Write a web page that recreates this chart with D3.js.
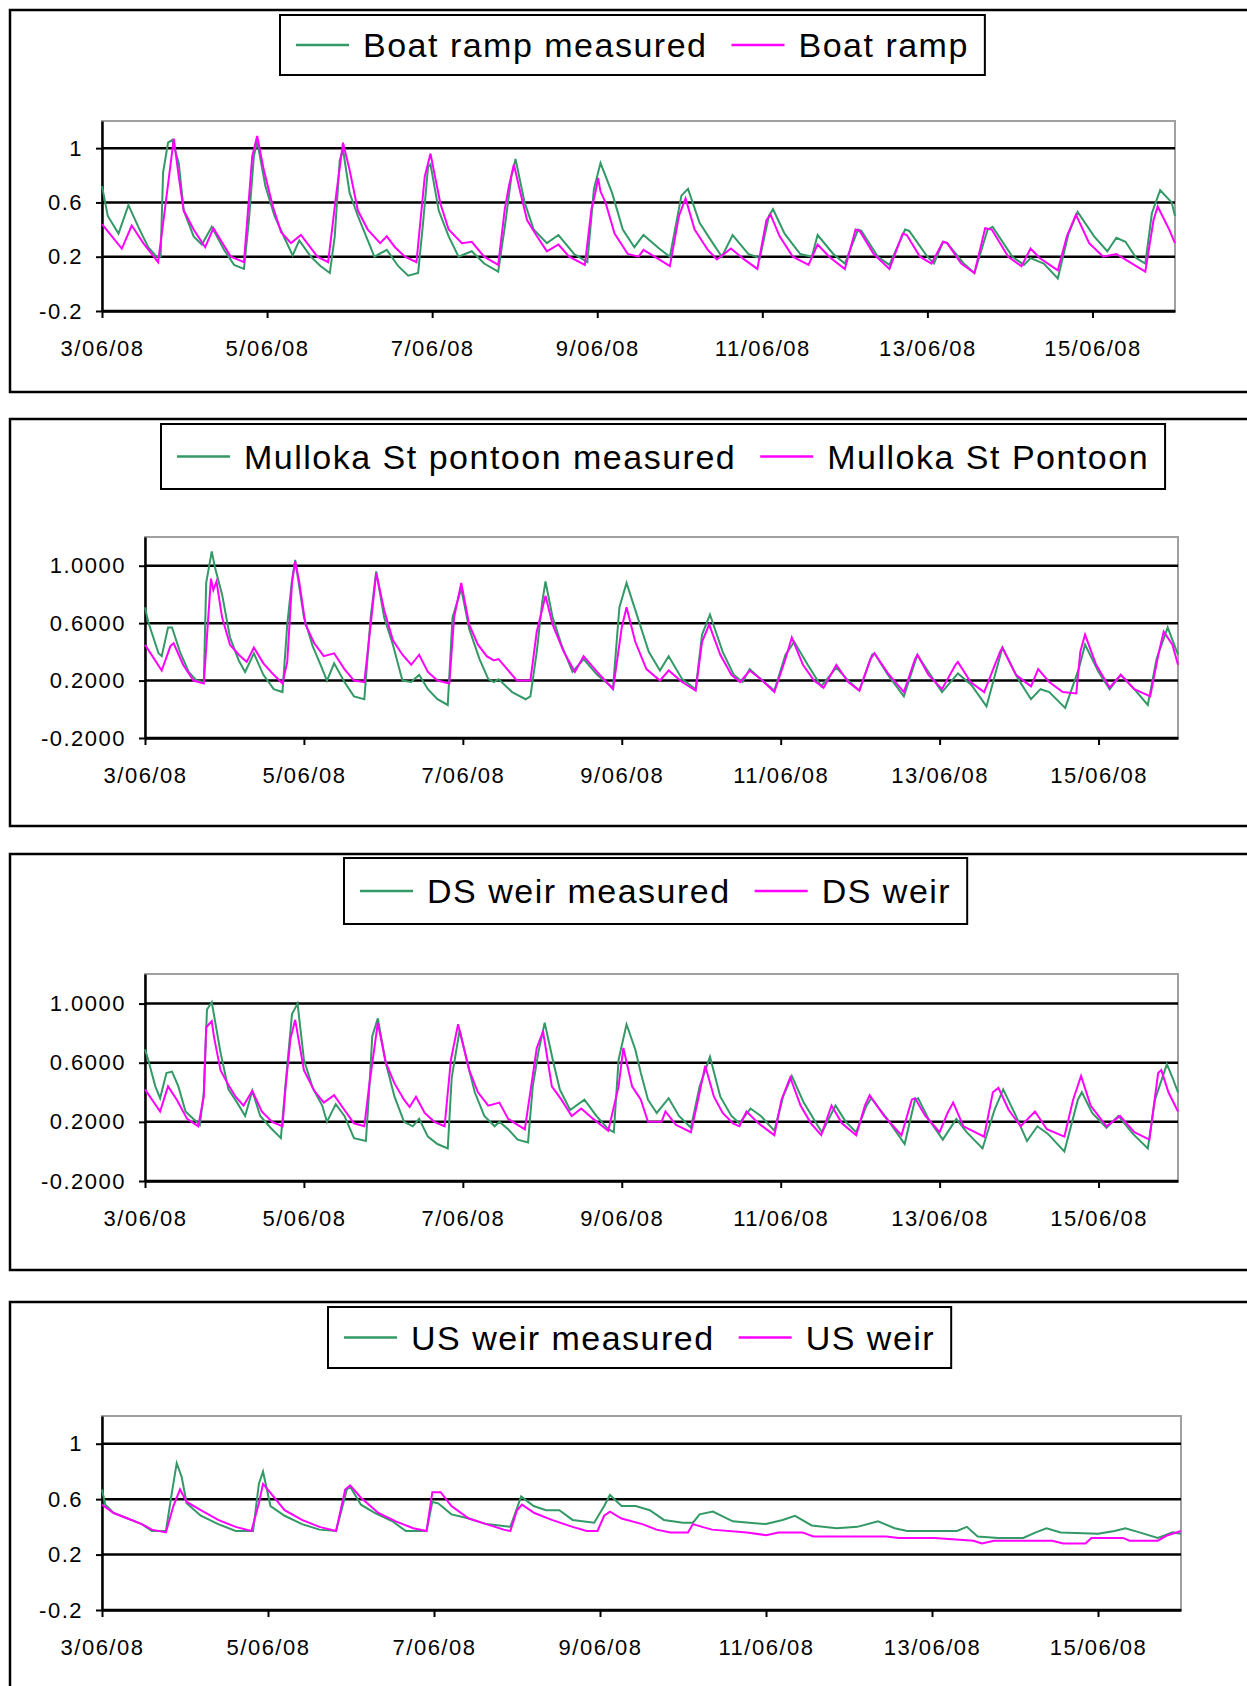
<!DOCTYPE html>
<html>
<head>
<meta charset="utf-8">
<script src="https://cdn.jsdelivr.net/npm/d3@7"></script>
<style>
body { margin: 0; background: #fff; }
svg { display: block; }
</style>
</head>
<body>
<script>
// time axis: 3/06/08 to 16/06/08, values are [day offset, level]
var startDate = new Date(2008, 5, 3);
var endDate = new Date(2008, 5, 16);
var yTicks = [-0.2, 0.2, 0.6, 1.0];

var measuredNames = ['Boat ramp measured', 'Mulloka St pontoon measured', 'DS weir measured', 'US weir measured'];
var modelNames = ['Boat ramp', 'Mulloka St Pontoon', 'DS weir', 'US weir'];

var boatMeasured = [[0,0.72],[0.07,0.50],[0.2,0.37],[0.32,0.58],[0.44,0.42],[0.56,0.27],[0.66,0.20],[0.71,0.20],[0.74,0.82],[0.80,1.04],[0.85,1.06],[0.93,0.89],[0.99,0.54],[1.11,0.35],[1.21,0.29],[1.33,0.42],[1.48,0.25],[1.6,0.14],[1.72,0.11],[1.78,0.47],[1.84,0.94],[1.88,1.05],[1.98,0.72],[2.09,0.50],[2.21,0.34],[2.31,0.21],[2.39,0.32],[2.53,0.20],[2.65,0.13],[2.76,0.08],[2.82,0.35],[2.88,0.91],[2.92,0.99],[3.0,0.67],[3.1,0.50],[3.22,0.32],[3.3,0.20],[3.45,0.25],[3.59,0.13],[3.71,0.06],[3.83,0.08],[3.89,0.45],[3.95,0.86],[3.98,0.88],[4.08,0.54],[4.2,0.35],[4.32,0.20],[4.48,0.24],[4.63,0.15],[4.8,0.09],[4.88,0.42],[4.96,0.79],[5.01,0.92],[5.12,0.60],[5.23,0.40],[5.39,0.30],[5.53,0.36],[5.72,0.22],[5.88,0.16],[5.96,0.70],[6.04,0.89],[6.18,0.67],[6.31,0.40],[6.45,0.27],[6.56,0.36],[6.75,0.26],[6.88,0.20],[7.02,0.65],[7.1,0.70],[7.24,0.45],[7.4,0.30],[7.51,0.20],[7.64,0.36],[7.83,0.22],[7.97,0.19],[8.08,0.50],[8.13,0.55],[8.27,0.37],[8.46,0.22],[8.6,0.20],[8.67,0.36],[8.86,0.22],[9.0,0.15],[9.16,0.40],[9.2,0.39],[9.4,0.20],[9.54,0.14],[9.73,0.40],[9.78,0.39],[10.0,0.20],[10.08,0.15],[10.19,0.31],[10.24,0.30],[10.44,0.15],[10.57,0.08],[10.73,0.40],[10.79,0.42],[11.03,0.20],[11.17,0.14],[11.25,0.19],[11.41,0.15],[11.58,0.04],[11.71,0.37],[11.82,0.53],[12.02,0.35],[12.18,0.24],[12.29,0.34],[12.4,0.31],[12.53,0.19],[12.64,0.15],[12.72,0.52],[12.82,0.69],[12.96,0.60],[13.0,0.50]];
var boatModel = [[0,0.44],[0.24,0.26],[0.36,0.43],[0.5,0.30],[0.68,0.16],[0.76,0.54],[0.87,1.07],[0.93,0.79],[0.99,0.54],[1.11,0.40],[1.25,0.27],[1.35,0.41],[1.56,0.20],[1.72,0.16],[1.82,0.94],[1.88,1.09],[1.96,0.84],[2.07,0.57],[2.17,0.38],[2.29,0.30],[2.41,0.36],[2.61,0.20],[2.74,0.16],[2.84,0.67],[2.92,1.04],[3.0,0.84],[3.10,0.54],[3.22,0.40],[3.37,0.30],[3.45,0.35],[3.55,0.27],[3.67,0.20],[3.81,0.16],[3.91,0.79],[3.98,0.96],[4.1,0.59],[4.2,0.40],[4.36,0.30],[4.48,0.31],[4.63,0.20],[4.8,0.14],[4.88,0.55],[4.93,0.72],[4.99,0.88],[5.07,0.67],[5.15,0.47],[5.26,0.36],[5.39,0.24],[5.53,0.29],[5.66,0.20],[5.85,0.14],[5.93,0.55],[5.98,0.68],[6.01,0.78],[6.04,0.68],[6.1,0.60],[6.21,0.37],[6.37,0.22],[6.5,0.20],[6.56,0.25],[6.75,0.18],[6.88,0.13],[6.99,0.50],[7.07,0.63],[7.18,0.40],[7.34,0.25],[7.45,0.18],[7.62,0.26],[7.78,0.18],[7.94,0.11],[8.05,0.47],[8.10,0.51],[8.21,0.35],[8.37,0.20],[8.56,0.14],[8.67,0.29],[8.81,0.20],[9.0,0.11],[9.13,0.40],[9.18,0.39],[9.35,0.22],[9.54,0.11],[9.70,0.37],[9.75,0.36],[9.91,0.20],[10.05,0.15],[10.19,0.31],[10.24,0.30],[10.41,0.15],[10.57,0.08],[10.70,0.41],[10.78,0.40],[10.98,0.20],[11.14,0.13],[11.25,0.26],[11.36,0.19],[11.58,0.10],[11.69,0.35],[11.80,0.51],[11.96,0.30],[12.13,0.20],[12.29,0.22],[12.45,0.16],[12.64,0.09],[12.74,0.47],[12.79,0.57],[12.93,0.40],[13.0,0.30]];

var mullokaMeasured = [[0,0.71],[0.04,0.61],[0.17,0.39],[0.21,0.37],[0.29,0.57],[0.34,0.57],[0.44,0.40],[0.55,0.26],[0.65,0.20],[0.74,0.19],[0.77,0.88],[0.84,1.10],[0.88,0.99],[0.97,0.80],[1.07,0.50],[1.18,0.34],[1.26,0.26],[1.37,0.39],[1.49,0.24],[1.62,0.14],[1.73,0.12],[1.79,0.59],[1.85,0.90],[1.89,1.04],[2.0,0.64],[2.11,0.44],[2.21,0.31],[2.29,0.20],[2.38,0.32],[2.51,0.19],[2.63,0.09],[2.76,0.07],[2.84,0.64],[2.91,0.96],[3.01,0.64],[3.12,0.45],[3.24,0.20],[3.35,0.19],[3.45,0.24],[3.56,0.14],[3.68,0.07],[3.81,0.03],[3.87,0.64],[3.98,0.84],[4.08,0.56],[4.21,0.35],[4.32,0.21],[4.39,0.19],[4.45,0.21],[4.62,0.12],[4.79,0.07],[4.85,0.09],[4.93,0.40],[5.0,0.75],[5.04,0.89],[5.13,0.64],[5.24,0.45],[5.38,0.26],[5.52,0.35],[5.69,0.24],[5.89,0.15],[5.97,0.71],[6.06,0.88],[6.20,0.64],[6.34,0.40],[6.48,0.27],[6.59,0.37],[6.76,0.21],[6.93,0.14],[7.01,0.52],[7.11,0.66],[7.27,0.40],[7.41,0.24],[7.52,0.19],[7.61,0.28],[7.77,0.20],[7.92,0.13],[8.06,0.38],[8.17,0.47],[8.34,0.31],[8.51,0.16],[8.70,0.29],[8.85,0.20],[8.99,0.13],[9.15,0.38],[9.18,0.39],[9.35,0.24],[9.55,0.09],[9.72,0.38],[9.86,0.26],[10.03,0.12],[10.23,0.25],[10.4,0.17],[10.59,0.02],[10.79,0.43],[10.99,0.21],[11.15,0.07],[11.27,0.14],[11.38,0.12],[11.58,0.01],[11.75,0.28],[11.83,0.45],[12.0,0.26],[12.14,0.14],[12.28,0.24],[12.45,0.14],[12.62,0.03],[12.73,0.35],[12.87,0.57],[13.0,0.38]];
var mullokaModel = [[0,0.45],[0.21,0.27],[0.32,0.44],[0.36,0.46],[0.48,0.31],[0.61,0.20],[0.74,0.18],[0.79,0.59],[0.83,0.91],[0.86,0.83],[0.90,0.89],[0.97,0.64],[1.07,0.45],[1.18,0.38],[1.28,0.33],[1.37,0.43],[1.49,0.32],[1.62,0.24],[1.73,0.18],[1.79,0.33],[1.85,0.88],[1.89,1.03],[1.94,0.89],[2.02,0.59],[2.13,0.46],[2.25,0.37],[2.38,0.39],[2.51,0.28],[2.63,0.20],[2.76,0.19],[2.84,0.59],[2.91,0.95],[3.01,0.69],[3.12,0.48],[3.24,0.38],[3.35,0.31],[3.45,0.38],[3.56,0.26],[3.68,0.20],[3.83,0.18],[3.89,0.64],[3.98,0.88],[4.08,0.59],[4.19,0.45],[4.3,0.37],[4.39,0.34],[4.45,0.35],[4.68,0.20],[4.85,0.20],[4.93,0.54],[5.04,0.79],[5.13,0.59],[5.27,0.40],[5.41,0.26],[5.52,0.37],[5.69,0.26],[5.89,0.14],[6.0,0.57],[6.06,0.71],[6.17,0.47],[6.31,0.28],[6.48,0.20],[6.59,0.27],[6.76,0.19],[6.93,0.13],[7.01,0.47],[7.10,0.59],[7.24,0.38],[7.38,0.24],[7.49,0.19],[7.61,0.27],[7.75,0.21],[7.92,0.12],[8.06,0.35],[8.14,0.50],[8.28,0.31],[8.42,0.20],[8.54,0.15],[8.70,0.31],[8.85,0.19],[8.99,0.13],[9.13,0.35],[9.18,0.39],[9.35,0.25],[9.55,0.12],[9.69,0.35],[9.72,0.38],[9.86,0.24],[10.03,0.14],[10.2,0.31],[10.23,0.33],[10.39,0.19],[10.56,0.12],[10.76,0.40],[10.79,0.43],[10.96,0.24],[11.15,0.16],[11.24,0.28],[11.38,0.19],[11.55,0.12],[11.72,0.11],[11.77,0.40],[11.83,0.52],[11.97,0.31],[12.14,0.15],[12.28,0.24],[12.45,0.14],[12.65,0.09],[12.76,0.40],[12.82,0.54],[12.93,0.45],[13.0,0.31]];

var dsMeasured = [[0,0.69],[0.04,0.62],[0.13,0.44],[0.19,0.36],[0.27,0.53],[0.34,0.54],[0.42,0.44],[0.51,0.27],[0.61,0.22],[0.69,0.18],[0.74,0.40],[0.78,0.96],[0.84,1.01],[0.95,0.67],[1.05,0.42],[1.16,0.33],[1.26,0.24],[1.35,0.41],[1.45,0.24],[1.58,0.16],[1.71,0.09],[1.77,0.46],[1.85,0.93],[1.92,1.0],[2.0,0.62],[2.11,0.43],[2.23,0.31],[2.29,0.20],[2.4,0.32],[2.51,0.24],[2.63,0.09],[2.78,0.07],[2.82,0.40],[2.86,0.78],[2.93,0.90],[3.03,0.60],[3.14,0.37],[3.26,0.20],[3.37,0.17],[3.45,0.22],[3.56,0.10],[3.68,0.05],[3.81,0.02],[3.86,0.50],[3.96,0.82],[4.08,0.55],[4.15,0.40],[4.27,0.24],[4.40,0.17],[4.46,0.20],[4.57,0.15],[4.69,0.08],[4.82,0.06],[4.88,0.44],[4.95,0.67],[5.03,0.87],[5.14,0.60],[5.22,0.42],[5.35,0.28],[5.53,0.35],[5.68,0.24],[5.83,0.15],[5.9,0.13],[5.96,0.62],[6.06,0.86],[6.17,0.69],[6.24,0.53],[6.33,0.35],[6.44,0.26],[6.59,0.36],[6.72,0.24],[6.87,0.16],[6.98,0.44],[7.11,0.64],[7.24,0.37],[7.38,0.24],[7.48,0.19],[7.62,0.29],[7.75,0.24],[7.92,0.14],[8.03,0.37],[8.14,0.51],[8.29,0.33],[8.47,0.17],[8.52,0.13],[8.69,0.31],[8.82,0.20],[8.95,0.13],[9.08,0.31],[9.14,0.36],[9.34,0.22],[9.56,0.05],[9.69,0.35],[9.73,0.36],[9.86,0.22],[10.04,0.08],[10.21,0.22],[10.34,0.13],[10.54,0.02],[10.69,0.28],[10.80,0.42],[10.96,0.24],[11.1,0.07],[11.23,0.17],[11.36,0.12],[11.57,0.0],[11.74,0.35],[11.79,0.40],[11.92,0.26],[12.1,0.16],[12.25,0.24],[12.43,0.12],[12.62,0.02],[12.71,0.35],[12.86,0.59],[12.93,0.50],[13.0,0.40]];
var dsModel = [[0,0.42],[0.19,0.27],[0.29,0.44],[0.40,0.35],[0.53,0.22],[0.67,0.17],[0.74,0.37],[0.77,0.84],[0.84,0.88],[0.87,0.77],[0.95,0.55],[1.05,0.45],[1.14,0.37],[1.24,0.31],[1.35,0.41],[1.47,0.27],[1.6,0.20],[1.73,0.17],[1.77,0.44],[1.83,0.76],[1.89,0.89],[2.0,0.55],[2.13,0.41],[2.25,0.33],[2.38,0.38],[2.51,0.28],[2.63,0.19],[2.76,0.17],[2.82,0.44],[2.93,0.87],[3.03,0.60],[3.14,0.46],[3.26,0.35],[3.33,0.30],[3.41,0.37],[3.52,0.26],[3.64,0.20],[3.77,0.17],[3.85,0.62],[3.94,0.86],[4.08,0.55],[4.19,0.40],[4.32,0.31],[4.46,0.33],[4.57,0.22],[4.78,0.15],[4.86,0.44],[4.93,0.70],[5.01,0.81],[5.12,0.44],[5.24,0.35],[5.37,0.24],[5.49,0.29],[5.64,0.22],[5.83,0.14],[5.96,0.44],[6.02,0.70],[6.13,0.44],[6.24,0.35],[6.33,0.20],[6.50,0.20],[6.55,0.27],[6.68,0.18],[6.87,0.13],[6.96,0.35],[7.05,0.58],[7.16,0.37],[7.27,0.26],[7.40,0.19],[7.48,0.17],[7.57,0.27],[7.72,0.19],[7.92,0.11],[8.01,0.35],[8.12,0.50],[8.25,0.31],[8.38,0.19],[8.51,0.11],[8.64,0.31],[8.77,0.19],[8.95,0.11],[9.06,0.31],[9.12,0.38],[9.30,0.24],[9.52,0.11],[9.65,0.35],[9.69,0.36],[9.82,0.24],[10.0,0.13],[10.1,0.26],[10.17,0.33],[10.30,0.17],[10.56,0.10],[10.67,0.40],[10.74,0.43],[10.87,0.28],[11.02,0.17],[11.2,0.27],[11.35,0.15],[11.57,0.10],[11.68,0.35],[11.78,0.51],[11.9,0.31],[12.1,0.17],[12.27,0.24],[12.45,0.13],[12.64,0.08],[12.75,0.53],[12.79,0.55],[12.88,0.40],[13.0,0.27]];

var usMeasured = [[0,0.67],[0.04,0.56],[0.14,0.50],[0.31,0.46],[0.48,0.42],[0.6,0.37],[0.77,0.37],[0.84,0.64],[0.90,0.86],[0.96,0.76],[1.02,0.57],[1.19,0.48],[1.40,0.42],[1.61,0.37],[1.82,0.37],[1.89,0.71],[1.94,0.80],[2.03,0.55],[2.20,0.48],[2.41,0.42],[2.62,0.38],[2.82,0.37],[2.95,0.67],[2.99,0.69],[3.12,0.56],[3.29,0.50],[3.50,0.44],[3.66,0.37],[3.91,0.37],[3.98,0.58],[4.05,0.57],[4.21,0.49],[4.42,0.46],[4.63,0.42],[4.92,0.40],[5.05,0.62],[5.2,0.55],[5.35,0.52],[5.51,0.52],[5.67,0.45],[5.93,0.43],[6.05,0.55],[6.12,0.63],[6.26,0.55],[6.43,0.55],[6.6,0.52],[6.77,0.45],[7.0,0.43],[7.12,0.43],[7.2,0.49],[7.36,0.51],[7.6,0.44],[7.8,0.43],[8.0,0.42],[8.2,0.45],[8.35,0.48],[8.55,0.41],[8.85,0.39],[9.1,0.40],[9.35,0.44],[9.55,0.39],[9.7,0.37],[10.3,0.37],[10.42,0.40],[10.55,0.33],[10.8,0.32],[11.1,0.32],[11.25,0.36],[11.38,0.39],[11.55,0.36],[12.0,0.35],[12.2,0.37],[12.33,0.39],[12.5,0.36],[12.72,0.32],[12.9,0.36],[13.0,0.35]];
var usModel = [[0,0.56],[0.14,0.50],[0.31,0.46],[0.48,0.42],[0.6,0.38],[0.77,0.36],[0.86,0.55],[0.94,0.67],[1.02,0.58],[1.19,0.52],[1.40,0.45],[1.61,0.40],[1.80,0.37],[1.89,0.57],[1.94,0.71],[2.05,0.63],[2.20,0.52],[2.41,0.45],[2.62,0.40],[2.82,0.37],[2.93,0.67],[2.99,0.70],[3.12,0.61],[3.33,0.50],[3.54,0.44],[3.75,0.39],[3.91,0.37],[3.98,0.65],[4.08,0.65],[4.21,0.55],[4.42,0.46],[4.63,0.42],[4.84,0.38],[4.92,0.37],[5.0,0.52],[5.06,0.56],[5.21,0.50],[5.42,0.45],[5.67,0.40],[5.84,0.37],[5.97,0.37],[6.05,0.48],[6.12,0.51],[6.26,0.46],[6.51,0.42],[6.68,0.38],[6.85,0.36],[7.06,0.36],[7.12,0.42],[7.23,0.40],[7.35,0.38],[7.77,0.36],[8.0,0.34],[8.15,0.36],[8.44,0.36],[8.57,0.33],[9.45,0.33],[9.6,0.32],[10.03,0.32],[10.5,0.30],[10.6,0.28],[10.75,0.30],[11.45,0.30],[11.58,0.28],[11.85,0.28],[11.92,0.32],[12.3,0.32],[12.38,0.30],[12.72,0.30],[12.84,0.34],[13.0,0.37]];

var measuredSeries = [boatMeasured, mullokaMeasured, dsMeasured, usMeasured];
var modelSeries = [boatModel, mullokaModel, dsModel, usModel];

var green = '#339966', magenta = '#ff00ff';
var font = '"Liberation Sans", Arial, sans-serif';

function shortFmt(v) { return String(+v.toFixed(1)); }
function longFmt(v) { return v.toFixed(4); }

// page layout of the four stacked charts
var layouts = [
	{top: 10, bottom: 392, legendLeft: 280, legendTop: 15, legendH: 60, plot: [102, 121, 1175, 311], fmt: shortFmt},
	{top: 419, bottom: 826, legendLeft: 161, legendTop: 424, legendH: 65, plot: [145, 537, 1178, 738], fmt: longFmt},
	{top: 854, bottom: 1270, legendLeft: 344, legendTop: 858, legendH: 66, plot: [145, 974, 1178, 1181], fmt: longFmt},
	{top: 1302, bottom: 1740, legendLeft: 328, legendTop: 1307, legendH: 61, plot: [102, 1416, 1181, 1610], fmt: shortFmt}
];

function toDate(d) { return new Date(startDate.getTime() + d * 864e5); }

var svg = d3.select('body').append('svg').attr('width', 1247).attr('height', 1686);

layouts.forEach(function (p, i) {
	var g = svg.append('g');
	g.append('rect').attr('x', 10).attr('y', p.top)
		.attr('width', 1300).attr('height', p.bottom - p.top)
		.attr('fill', 'none').attr('stroke', '#000').attr('stroke-width', 2.5);

	var left = p.plot[0], top = p.plot[1], right = p.plot[2], bottom = p.plot[3];
	var x = d3.scaleTime().domain([startDate, endDate]).range([left, right]);
	var y = d3.scaleLinear().domain([-0.2, 1.2]).range([bottom, top]);

	g.append('rect').attr('x', left).attr('y', top)
		.attr('width', right - left).attr('height', bottom - top)
		.attr('fill', '#fff').attr('stroke', '#a0a0a0').attr('stroke-width', 2);

	g.selectAll('line.grid').data(yTicks).join('line')
		.attr('class', 'grid')
		.attr('x1', left).attr('x2', right)
		.attr('y1', function (d) { return y(d); }).attr('y2', function (d) { return y(d); })
		.attr('stroke', '#000').attr('stroke-width', 2.5);

	var xAxis = g.append('g').attr('transform', 'translate(0,' + bottom + ')')
		.call(d3.axisBottom(x).ticks(d3.timeDay.every(2))
			.tickFormat(d3.timeFormat('%-d/%m/%y')).tickSize(7).tickSizeOuter(0).tickPadding(22));
	var yAxis = g.append('g').attr('transform', 'translate(' + left + ',0)')
		.call(d3.axisLeft(y).tickValues(yTicks).tickFormat(p.fmt).tickSize(6).tickSizeOuter(0).tickPadding(13));

	[xAxis, yAxis].forEach(function (a) {
		a.select('.domain').attr('stroke', '#000').attr('stroke-width', 2.5);
		a.selectAll('.tick line').attr('stroke', '#000').attr('stroke-width', 2);
		a.selectAll('text').attr('font-family', font).attr('font-size', 22)
			.attr('letter-spacing', '1.5px').attr('fill', '#000');
	});

	var line = d3.line()
		.x(function (d) { return x(toDate(d[0])); })
		.y(function (d) { return y(d[1]); });

	g.append('path').datum(measuredSeries[i]).attr('d', line)
		.attr('fill', 'none').attr('stroke', green).attr('stroke-width', 2);
	g.append('path').datum(modelSeries[i]).attr('d', line)
		.attr('fill', 'none').attr('stroke', magenta).attr('stroke-width', 2);

	// legend box
	var lg = g.append('g');
	var box = lg.append('rect').attr('x', p.legendLeft).attr('y', p.legendTop)
		.attr('height', p.legendH).attr('fill', '#fff')
		.attr('stroke', '#000').attr('stroke-width', 2);
	var cy = p.legendTop + p.legendH / 2;
	var cx = p.legendLeft + 16;
	[[measuredNames[i], green], [modelNames[i], magenta]].forEach(function (item, k) {
		lg.append('line').attr('x1', cx).attr('x2', cx + 53)
			.attr('y1', cy).attr('y2', cy)
			.attr('stroke', item[1]).attr('stroke-width', 2.5);
		var t = lg.append('text').attr('x', cx + 67).attr('y', cy).attr('dy', '0.36em')
			.attr('font-family', font).attr('font-size', 34).attr('letter-spacing', '1.5px')
			.attr('fill', '#000').text(item[0]);
		cx = cx + 67 + t.node().getComputedTextLength() + 24;
	});
	box.attr('width', cx - 24 + 16 - p.legendLeft);
});
</script>
</body>
</html>
